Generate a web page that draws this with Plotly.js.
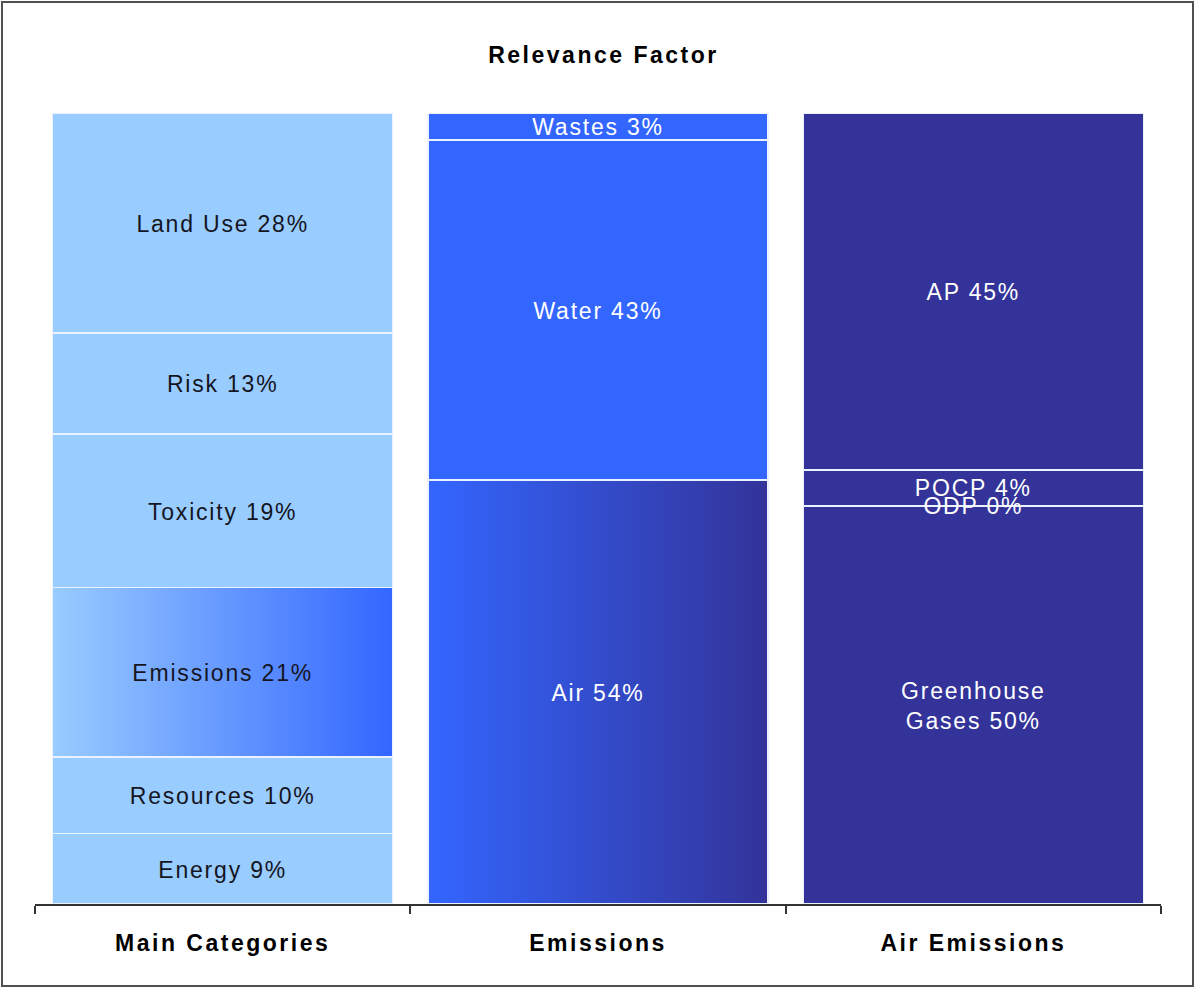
<!DOCTYPE html>
<html>
<head>
<meta charset="utf-8">
<script src="https://cdn.plot.ly/plotly-3.0.1.min.js"></script>
<style>
  html, body { margin: 0; padding: 0; background: #fff; }
  #wrap { position: relative; width: 1195px; height: 989px; }
  #chart { width: 1195px; height: 989px; }
  #frame { position: absolute; left: 1px; top: 1px; width: 1193px; height: 986px; box-sizing: border-box; border: 2px solid #505050; pointer-events: none; }
  .gtitle { letter-spacing: 2.5px; }
  .xtick text { letter-spacing: 2.5px; }
  .textpoint text { letter-spacing: 1.8px; transform: translateY(3px); }
</style>
</head>
<body>
<div id="wrap"><div id="chart"></div><div id="frame"></div></div>
<script>
// ---- data ----
const groups = ['Main Categories', 'Emissions', 'Air Emissions'];

const mainNames  = ['Energy', 'Resources', 'Emissions', 'Toxicity', 'Risk', 'Land Use'];
const mainValues = [8.9, 9.7, 21.4, 19.4, 12.8, 27.8];

const emisNames  = ['Air', 'Water', 'Wastes'];
const emisValues = [53.6, 43.0, 3.4];

const airNames  = ['Greenhouse<br>Gases', 'ODP', 'POCP', 'AP'];
const airValues = [50.3, 0.1, 4.45, 45.15];

const chartTitle = 'Relevance Factor';

// ---- styles ----
const LIGHT = '#99CCFF', MID = '#3366FF', DARK = '#333399';
const mainColors = [LIGHT, LIGHT, 'grad:' + LIGHT + ':' + MID, LIGHT, LIGHT, LIGHT];
const emisColors = ['grad:' + MID + ':' + DARK, MID, MID];
const airColors  = [DARK, DARK, DARK, DARK];
const groupText  = ['#15151f', '#ffffff', '#ffffff'];

const series = [
  {names: mainNames, values: mainValues, colors: mainColors},
  {names: emisNames, values: emisValues, colors: emisColors},
  {names: airNames,  values: airValues,  colors: airColors}
];

const barTraces = [];
const textTraces = [];
const gradients = []; // {barIndex, from, to}

series.forEach((s, gi) => {
  let cum = 0;
  const ys = [], txt = [];
  s.values.forEach((v, i) => {
    const c = s.colors[i];
    let color = c;
    if (c.startsWith('grad:')) {
      const parts = c.split(':');
      color = parts[1];
      gradients.push({barIndex: barTraces.length, from: parts[1], to: parts[2]});
    }
    barTraces.push({
      type: 'bar',
      x: [groups[gi]],
      y: [v],
      name: s.names[i],
      marker: {color: color, line: {color: '#eaf2ff', width: 1.5}},
      textposition: 'none',
      hoverinfo: 'skip',
      showlegend: false
    });
    ys.push(cum + v / 2);
    txt.push(s.names[i] + ' ' + Math.round(v) + '%');
    cum += v;
  });
  textTraces.push({
    type: 'scatter',
    mode: 'text',
    x: s.values.map(() => groups[gi]),
    y: ys,
    text: txt,
    textposition: 'middle center',
    textfont: {family: 'Liberation Sans, Arial, sans-serif', size: 23, color: groupText[gi]},
    cliponaxis: false,
    hoverinfo: 'skip',
    showlegend: false
  });
});

const layout = {
  width: 1195,
  height: 989,
  margin: {l: 35, r: 34, t: 113, b: 85, pad: 0},
  paper_bgcolor: '#ffffff',
  plot_bgcolor: '#ffffff',
  barmode: 'stack',
  bargap: 0.094,
  showlegend: false,
  title: {
    text: '<b>' + chartTitle + '</b>',
    x: 0.505, xanchor: 'center',
    y: 1 - 55 / 989, yanchor: 'middle',
    font: {family: 'Liberation Sans, Arial, sans-serif', size: 23, color: '#000'}
  },
  xaxis: {
    type: 'category',
    categoryorder: 'array',
    categoryarray: groups,
    range: [-0.5, 2.5],
    showline: true,
    linecolor: '#333333',
    linewidth: 2,
    ticks: 'outside',
    tickson: 'boundaries',
    ticklen: 8,
    tickwidth: 2,
    tickcolor: '#333333',
    showgrid: false,
    zeroline: false,
    ticklabelstandoff: 17,
    tickfont: {family: 'Liberation Sans, Arial, sans-serif', size: 23, color: '#000', weight: 'bold'},
    fixedrange: true
  },
  yaxis: {
    range: [0, 100],
    visible: false,
    showgrid: false,
    zeroline: false,
    fixedrange: true
  }
};

Plotly.newPlot('chart', barTraces.concat(textTraces), layout, {staticPlot: true, displayModeBar: false}).then(gd => {
  const svg = gd.querySelector('.main-svg');
  let defs = svg.querySelector('defs');
  const NS = 'http://www.w3.org/2000/svg';
  if (!defs) { defs = document.createElementNS(NS, 'defs'); svg.insertBefore(defs, svg.firstChild); }
  const barGroups = gd.querySelectorAll('.barlayer .trace');
  gradients.forEach((g, k) => {
    const id = 'bargrad' + k;
    const lg = document.createElementNS(NS, 'linearGradient');
    lg.setAttribute('id', id);
    lg.setAttribute('x1', '0'); lg.setAttribute('y1', '0');
    lg.setAttribute('x2', '1'); lg.setAttribute('y2', '0');
    [[0, g.from], [1, g.to]].forEach(([o, c]) => {
      const st = document.createElementNS(NS, 'stop');
      st.setAttribute('offset', String(o));
      st.setAttribute('stop-color', c);
      lg.appendChild(st);
    });
    defs.appendChild(lg);
    const grp = barGroups[g.barIndex];
    if (grp) grp.querySelectorAll('path').forEach(p => { p.style.fill = 'url(#' + id + ')'; });
  });
});
</script>
</body>
</html>
